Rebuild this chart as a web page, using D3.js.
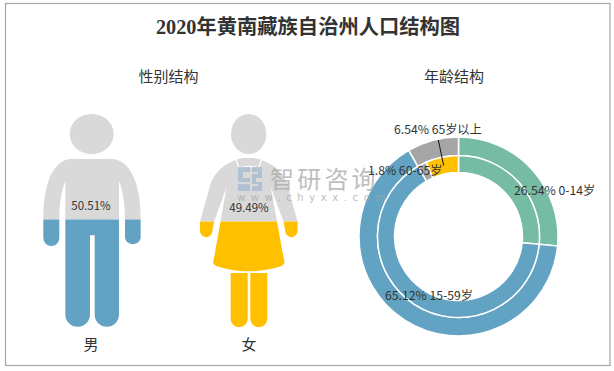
<!DOCTYPE html>
<html>
<head>
<meta charset="utf-8">
<script src="https://cdn.jsdelivr.net/npm/d3@7"></script>
<style>
  html, body { margin: 0; padding: 0; background: #fff; }
  svg { display: block; }
  text { font-family: "Noto Sans CJK SC", sans-serif; fill: #333; }
</style>
</head>
<body>
<div class="canvas"></div>
<script>
// Chart values
const titleText = "2020年黄南藏族自治州人口结构图";
const genderLabels = ["男", "女"];
const genderValues = [50.51, 49.49];
const ageLabels = ["0-14岁", "15-59岁", "60-65岁", "65岁以上"];
const ageValues = [26.54, 65.12, 1.8, 6.54];
// outer ring lumps the two oldest groups together
const outerValues = [26.54, 65.12, 8.34];

const width = 614;
const height = 371;

const svg = d3.select(".canvas")
    .append("svg")
    .attr("width", width)
    .attr("height", height);

// Frame
svg.append("rect")
    .attr("x", 5.5)
    .attr("y", 3.5)
    .attr("width", 604.5)
    .attr("height", 362)
    .attr("fill", "#fff")
    .attr("stroke", "#a6a6a6")
    .attr("stroke-width", 1.2);

// Title
svg.append("text")
    .attr("x", 308)
    .attr("y", 34)
    .attr("text-anchor", "middle")
    .style("font-family", '"Liberation Serif", "Noto Sans CJK SC", serif')
    .style("font-size", "20.3px")
    .style("font-weight", "bold")
    .text(titleText);

svg.append("text")
    .attr("x", 168.5)
    .attr("y", 82)
    .attr("text-anchor", "middle")
    .style("font-size", "15px")
    .text("性别结构");

svg.append("text")
    .attr("x", 454)
    .attr("y", 82)
    .attr("text-anchor", "middle")
    .style("font-size", "15px")
    .text("年龄结构");

// Pictograms: outlines are drawn at 3x and scaled down

const y = d3.scaleLinear()
    .domain([0, 100])
    .range([327, 114]);

const manBody = "M215,207 L335,207 C385,207 422,270 422,385 L422,444 A24,24 0 0 1 375,444 L375,385 C375,340 368,300 357,272 L357,674 A36,36 0 0 1 284,674 L284,436 L270,436 L270,674 A37,36 0 0 1 196,674 L196,272 C185,300 178,340 178,385 L178,444 A24,24 0 0 1 130,444 L130,385 C130,270 165,207 215,207 Z";
const womanBody = "M746,204 C765,204 775,206 785,210 C820,222 846,245 861,280 L893,396 L893,422 A18,18 0 0 1 856,424 L851,396 L812,290 L852,510 Q858,522 845,528 Q746,560 648,528 Q635,522 641,510 L680,290 L642,396 L637,424 A18,18 0 0 1 600,422 L600,396 L632,280 C647,245 672,222 708,210 C718,206 728,204 746,204 Z M692,549 L743,549 L743,686 A25,25 0 0 1 692,686 Z M751,549 L802,549 L802,686 A25,25 0 0 1 751,686 Z";

const figures = [
    { body: manBody, head: [275, 132, 66, 60], color: "#62a3c3", labelX: 91, labelY: 210 },
    { body: womanBody, head: [746, 132, 53, 60], color: "#ffc000", labelX: 249, labelY: 212 }
];

const defs = svg.append("defs");

figures.forEach((f, i) => {
    const level = y(genderValues[i]);

    defs.append("clipPath").attr("id", `top${i}`)
        .append("rect")
        .attr("x", 0)
        .attr("y", y(100))
        .attr("width", width)
        .attr("height", level - y(100));

    defs.append("clipPath").attr("id", `bottom${i}`)
        .append("rect")
        .attr("x", 0)
        .attr("y", level)
        .attr("width", width)
        .attr("height", y(0) - level);

    [["top", "#d9d9d9"], ["bottom", f.color]].forEach(([part, fill]) => {
        const g = svg.append("g")
            .attr("clip-path", `url(#${part}${i})`)
            .append("g")
            .attr("transform", "translate(0,90) scale(0.3333)")
            .attr("fill", fill);
        g.append("ellipse")
            .attr("cx", f.head[0])
            .attr("cy", f.head[1])
            .attr("rx", f.head[2])
            .attr("ry", f.head[3]);
        g.append("path").attr("d", f.body);
    });

    svg.append("text")
        .attr("x", f.labelX)
        .attr("y", 350)
        .attr("text-anchor", "middle")
        .style("font-size", "15px")
        .text(genderLabels[i]);
});

// White collar on the woman
svg.append("path")
    .attr("transform", "translate(0,90) scale(0.3333)")
    .attr("d", "M708,208 L717,235 Q746,224 776,235 L785,208")
    .attr("fill", "none")
    .attr("stroke", "#fff")
    .attr("stroke-width", 4);

// Donut

const donut = svg.append("g").attr("transform", "translate(458.5,236.5)");

const pie = d3.pie().sort(null).value(d => d);

const outerColors = d3.scaleOrdinal().domain(d3.range(3)).range(["#76bba4", "#62a3c3", "#a5a5a5"]);
const innerColors = d3.scaleOrdinal().domain(d3.range(4)).range(["#76bba4", "#62a3c3", "#a5a5a5", "#ffc000"]);

const outerArc = d3.arc().innerRadius(81).outerRadius(99.5);
const innerArc = d3.arc().innerRadius(64).outerRadius(81);

donut.selectAll(".outer")
    .data(pie(outerValues))
    .join("path")
    .attr("class", "outer")
    .attr("d", outerArc)
    .attr("fill", (d, i) => outerColors(i))
    .attr("stroke", "#fff")
    .attr("stroke-width", 1.5);

donut.selectAll(".inner")
    .data(pie(ageValues))
    .join("path")
    .attr("class", "inner")
    .attr("d", innerArc)
    .attr("fill", (d, i) => innerColors(i))
    .attr("stroke", "#fff")
    .attr("stroke-width", 1.5);

// Watermark sits over the figure and the ring
const mark = svg.append("g").attr("opacity", 0.72);

mark.append("path")
    .attr("d", "M238,167 H250 V172 H243 V178 H250 V182 H238 Z M238,184 H250 V191 H238 Z")
    .attr("fill", "#a3b9cf");
mark.append("path")
    .attr("d", "M252,167 H262 V178 H256 V182 H262 V191 H252 V186 H258 V184 H252 V174 H258 V172 H252 Z")
    .attr("fill", "#a3b9cf");
mark.append("text")
    .attr("x", 270)
    .attr("y", 188)
    .style("font-size", "24px")
    .style("letter-spacing", "3.2px")
    .style("fill", "#a6a6a6")
    .text("智研咨询");
mark.append("text")
    .attr("x", 237)
    .attr("y", 201)
    .style("font-family", '"DejaVu Sans", sans-serif')
    .style("font-size", "10px")
    .style("letter-spacing", "5.6px")
    .style("fill", "#a6a6a6")
    .text("www.chyxx.com");

// Percent labels stay above the watermark
figures.forEach((f, i) => {
    svg.append("text")
        .attr("x", f.labelX)
        .attr("y", f.labelY)
        .attr("text-anchor", "middle")
        .style("font-size", "11.5px")
        .text(`${genderValues[i]}%`);
});

// Leader line of the 65+ label
svg.append("line")
    .attr("x1", 438.3)
    .attr("y1", 140)
    .attr("x2", 443.7)
    .attr("y2", 165.7)
    .attr("stroke", "#111")
    .attr("stroke-width", 1);

// Age labels, in the order of ageLabels
const labelX = [514, 385, 368, 394];
const labelY = [195, 300, 175, 134];

svg.selectAll(".age-label")
    .data(ageLabels)
    .join("text")
    .attr("class", "age-label")
    .attr("x", (d, i) => labelX[i])
    .attr("y", (d, i) => labelY[i])
    .style("font-size", "12.2px")
    .text((d, i) => `${ageValues[i]}% ${d}`);
</script>
</body>
</html>
